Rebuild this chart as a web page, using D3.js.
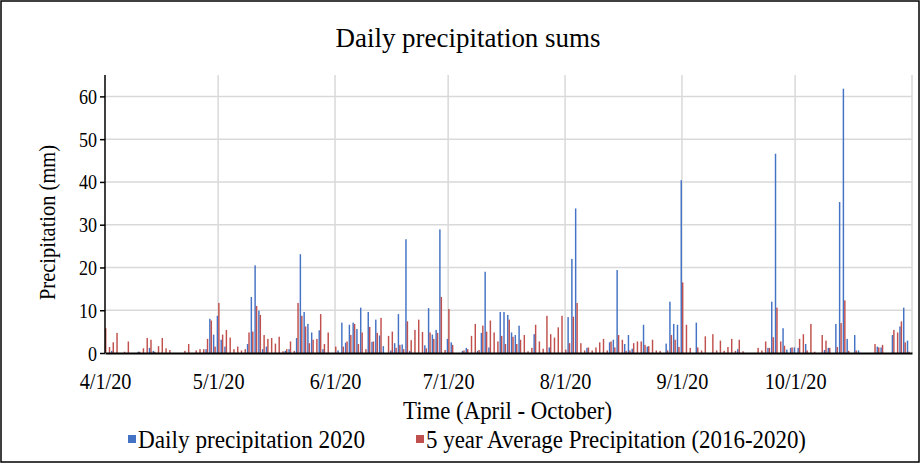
<!DOCTYPE html>
<html><head><meta charset="utf-8">
<script src="https://cdn.jsdelivr.net/npm/d3@7"></script>
<style>
html,body{margin:0;padding:0;background:#fff;}
text{font-family:"Liberation Serif","Times New Roman",serif;fill:#000;}
</style></head>
<body><svg id="c" width="922" height="465"></svg>
<script>
const startDate = "2020-04-01";
const endDate = "2020-11-01";
const xTickLabels = ["4/1/20","5/1/20","6/1/20","7/1/20","8/1/20","9/1/20","10/1/20"];
const yTicks = [0,10,20,30,40,50,60];
const seriesNames = ["Daily precipitation 2020","5 year Average Precipitation (2016-2020)"];

// Daily precipitation 2020 (mm), one value per day, by month
const daily2020Apr = [0,0,0.5,0,0,0,0,0,0,0.3, 0,0,1.2,0.5,0,0,0,0,0,0, 0,0,0,0,0,0,0,0.9,8,4.3];
const daily2020May = [8.7,3.1,1.5,0,0,0,0,0,2.1,13.1, 20.5,9.9,0.9,1.5,0,0,0,0,0.5,0.9, 0,3.5,23.1,9.6,6.8,4.8,0,5.3,0.9,0, 0];
const daily2020Jun = [0,0.6,7.1,2.4,6.6,7.1,5.6,10.6,0,9.6, 2.6,7.8,4.1,1.6,0,0.6,2.3,9.1,2,26.6, 0.5,0,0,0,1.8,10.5,4.3,5.4,28.9,0];
const daily2020Jul = [3.3,2.5,0,0,0.5,1.2,0,0,0.5,4.7, 19,1.3,0,0,9.6,9.6,8.9,4.8,4.2,6.4, 0,0,0,4.4,0,0,0,1.3,0,0, 0];
const daily2020Aug = [0,8.4,22,33.8,0,0,1.2,0,0,0, 0,0,2.5,3.1,19.4,0,2.1,4.2,1,0, 0,6.6,1.5,0,0,0,0,2.2,12,6.8, 6.6];
const daily2020Sep = [40.4,0,0,0,7.1,0,0,0,0,0, 0,0,0,0,0,0.9,0,0,0,0, 0,0,0,1.2,12,46.6,0,5.8,0.8,1.2];
const daily2020Oct = [1.3,1.2,0,2.1,0,0,0,0,0.7,1.2, 0,6.8,35.3,61.8,3.3,0,4.2,0.6,0,0, 0,0,1.5,1.3,0,0,4.2,0,6.2,10.6, 2.9];

// 5 year average precipitation 2016-2020 (mm)
const avg5yApr = [5.8,1.4,2.5,4.7,0,0.3,2.7,0,0,0.3, 1.1,3.5,3.1,0.3,1.6,3.5,1.1,0.7,0,0, 0,0.5,2.1,0,0.6,0.9,0.9,3.3,7.6,1.5];
const avg5yMay = [11.7,4.3,5.4,3.6,0.9,1.5,0.6,0.9,4.8,5, 11,8.9,4.2,3.3,3.5,2.2,3.8,0.4,0.9,2.7, 0.5,11.7,8.7,6.2,2.3,3.1,3.3,9.1,2.1,4.8, 0];
const avg5yJun = [1.5,0,1.5,2.7,4.2,6.8,2.1,4.8,0.9,6.1, 2.7,4.7,8.2,0,4,5,1.2,1.9,0.9,7.4, 3,5.4,7.8,4.9,1.1,4.8,3.3,4.7,13.1,0.7];
const avg5yJul = [10.3,1.9,0,0,0.6,0.9,4,6.8,0.7,6.4, 5,7.6,4.8,2.7,4,2.1,7.8,3.8,2.1,3.1, 4.2,0.4,1.2,6.6,2.7,1,8.7,4.4,3.6,6, 8.7];
const avg5yAug = [0.8,2.3,8.5,11.7,2.3,0.6,1.3,0.6,1.3,2.5, 3.3,0.6,2.7,1.3,4.2,3.1,0.5,0.6,2.3,2.7, 2.7,1.9,1.6,3.1,0.6,0.5,0,0.6,4.2,3.1, 1.4];
const avg5ySep = [16.5,6.6,1.2,0,1.3,0.6,3.9,0,4.4,0.6, 2.9,0.5,1.4,3.3,0.5,3.1,0.4,0,0,0, 1.2,0.6,2.7,1.2,3.7,10.6,2.7,1.7,0,1.3];
const avg5yOct = [0,3.3,4.4,0.6,6.8,0.3,0,4.2,2.9,1.2, 0,1.4,7,12.3,0.5,0,0.6,0,0,0, 0,2.1,1.3,1.9,0,0,5.4,4.8,7.4,2.5, 0.3];

const daily2020 = [].concat(daily2020Apr,daily2020May,daily2020Jun,daily2020Jul,daily2020Aug,daily2020Sep,daily2020Oct);
const avg5y = [].concat(avg5yApr,avg5yMay,avg5yJun,avg5yJul,avg5yAug,avg5ySep,avg5yOct);

const parse = d3.utcParse("%Y-%m-%d");
const t0 = parse(startDate), t1 = parse(endDate);
const dates = daily2020.map((_, i) => d3.utcDay.offset(t0, i));

const svg = d3.select("#c");
const W = 922, H = 465;
const m = {l:105, r:10, t:75, b:112};
const x = d3.scaleUtc().domain([t0, t1]).range([m.l, W - m.r]);
const y = d3.scaleLinear().domain([0, 65]).range([H - m.b, m.t]);

// horizontally condensed text, like the reference
function condense(sel, f){
  sel.each(function(){
    const L = this.getComputedTextLength();
    d3.select(this).attr("textLength", L*f).attr("lengthAdjust","spacingAndGlyphs");
  });
}

// frame
svg.append("rect").attr("x",1).attr("y",1).attr("width",W-4).attr("height",H-4)
  .attr("fill","#fff").attr("stroke","#000").attr("stroke-width",1.5);

// gridlines
const grid = svg.append("g");
grid.selectAll("line.h").data(yTicks.slice(1)).join("line")
  .attr("x1",m.l).attr("x2",W-m.r).attr("y1",d=>y(d)).attr("y2",d=>y(d))
  .attr("stroke","#d9d9d9").attr("stroke-width",1.5);
const monthStarts = d3.utcMonth.range(d3.utcMonth.offset(t0,1), d3.utcDay.offset(t1,1));
grid.selectAll("line.v").data(monthStarts).join("line")
  .attr("x1",d=>x(d)).attr("x2",d=>x(d)).attr("y1",m.t).attr("y2",H-m.b)
  .attr("stroke","#d9d9d9").attr("stroke-width",1.5);

// bars
const bw = 1.45;
const bars = svg.append("g");
bars.selectAll("rect.b").data(daily2020).join("rect")
  .attr("x",(d,i)=>x(dates[i]) - bw).attr("width",bw)
  .attr("y",d=>y(d)).attr("height",d=>y(0)-y(d)).attr("fill","#4472C4");
bars.selectAll("rect.r").data(avg5y).join("rect")
  .attr("x",(d,i)=>x(dates[i])).attr("width",bw)
  .attr("y",d=>y(d)).attr("height",d=>y(0)-y(d)).attr("fill","#C0504D");

// y axis
const yAxis = svg.append("g").attr("transform",`translate(${m.l},0)`)
  .call(d3.axisLeft(y).tickValues(yTicks).tickSize(5).tickPadding(3));
yAxis.select(".domain").attr("stroke","#000").attr("stroke-width",1.5)
  .attr("d",`M0,${m.t}V${H-m.b}`);
yAxis.selectAll(".tick line").attr("stroke","#000").attr("stroke-width",1.5);
yAxis.selectAll("text").attr("font-size",22).style("font-family","'Liberation Serif',serif");
condense(yAxis.selectAll("text"), 0.82);

// x axis
const xTickDates = xTickLabels.map((s,i)=>d3.utcMonth.offset(t0,i));
const xAxis = svg.append("g").attr("transform",`translate(0,${H-m.b})`)
  .call(d3.axisBottom(x).tickValues(xTickDates).tickSize(0).tickPadding(20)
    .tickFormat((d,i)=>xTickLabels[i]));
xAxis.select(".domain").attr("stroke","#000").attr("stroke-width",2);
xAxis.selectAll("text").attr("font-size",23).style("font-family","'Liberation Serif',serif");
condense(xAxis.selectAll("text"), 0.88);

// titles
svg.append("text").attr("x",468).attr("y",47).attr("text-anchor","middle")
  .attr("font-size",28).attr("textLength",265).attr("lengthAdjust","spacingAndGlyphs")
  .text("Daily precipitation sums");
svg.append("text").attr("transform","translate(55,222.5) rotate(-90)").attr("text-anchor","middle")
  .attr("font-size",24).attr("textLength",155).attr("lengthAdjust","spacingAndGlyphs")
  .text("Precipitation (mm)");
svg.append("text").attr("x",507.5).attr("y",419).attr("text-anchor","middle")
  .attr("font-size",26).attr("textLength",209).attr("lengthAdjust","spacingAndGlyphs")
  .text("Time (April - October)");

// legend
const legend = svg.append("g");
const legItems = [{x:128, c:"#4472C4", w:227},{x:416, c:"#C0504D", w:380}];
legItems.forEach((it,i)=>{
  legend.append("rect").attr("x",it.x).attr("y",435).attr("width",8).attr("height",8).attr("fill",it.c);
  legend.append("text").attr("x",it.x+10).attr("y",448).attr("font-size",26)
    .attr("textLength",it.w).attr("lengthAdjust","spacingAndGlyphs").text(seriesNames[i]);
});
</script></body></html>
